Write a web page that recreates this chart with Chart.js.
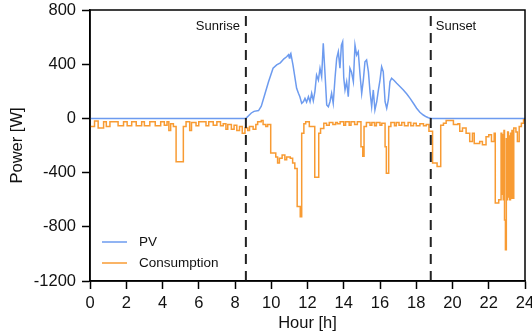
<!DOCTYPE html>
<html>
<head>
<meta charset="utf-8">
<script src="https://cdn.jsdelivr.net/npm/chart.js@4/dist/chart.umd.min.js"></script>
<style>
  body { margin: 0; background: #fff; }
</style>
</head>
<body>
<canvas id="power-chart" width="532" height="336"></canvas>
<script>
// hour ticks and power ticks
const hourTicks = [0, 2, 4, 6, 8, 10, 12, 14, 16, 18, 20, 22, 24];
const powerTicks = [-1200, -800, -400, 0, 400, 800];

// sunrise / sunset markers
const markerHours = [8.6, 18.8];
const markerLabels = ['Sunrise', 'Sunset'];

// PV production
const pvHour = [0, 8.6, 8.75, 8.9, 9.05, 9.3, 9.45, 9.65, 9.85, 10.1, 10.3, 10.5, 10.7, 10.85, 10.95, 11.0, 11.03, 11.08, 11.2, 11.4,
  11.5, 11.58, 11.68, 11.78, 11.86, 11.95, 12.05, 12.14, 12.23, 12.32, 12.41, 12.5, 12.6, 12.69, 12.78, 12.87, 12.97, 13.06, 13.15, 13.24,
  13.33, 13.42, 13.52, 13.61, 13.7, 13.79, 13.87, 13.94, 14.0, 14.07, 14.16, 14.25, 14.34, 14.43, 14.53, 14.62, 14.71, 14.8, 14.9, 14.99,
  15.08, 15.17, 15.26, 15.36, 15.45, 15.54, 15.63, 15.72, 15.82, 15.9, 16.0, 16.09, 16.18, 16.28, 16.37, 16.46, 16.55, 16.64, 16.78, 16.92,
  17.1, 17.29, 17.48, 17.66, 17.85, 18.02, 18.2, 18.39, 18.55, 18.67, 18.85, 24];
const pvPower = [0, 0, 20, 40, 52, 58, 90, 180, 270, 370, 395, 410, 440, 455, 470, 445, 468, 480, 394, 222,
  185, 160, 111, 125, 148, 120, 160, 123, 185, 130, 200, 320, 283, 370, 308, 554, 320, 99, 86, 123,
  185, 111, 300, 443, 492, 370, 541, 566, 300, 210, 271, 160, 370, 340, 271, 541, 468, 492, 320, 185,
  283, 418, 431, 345, 197, 86, 210, 62, 123, 200, 283, 382, 345, 123, 75, 136, 271, 296, 280, 259,
  235, 210, 180, 148, 110, 75, 45, 25, 12, 5, 0, 0];

// household consumption, each value holds until the next hour
const conHour = [0, 0.25, 0.45, 0.75, 0.9, 1.1, 1.55, 1.85, 2.05, 2.3, 2.55, 2.85, 3.0, 3.3, 3.6, 3.9, 4.1, 4.25, 4.35, 4.45,
  4.6, 4.75, 5.15, 5.3, 5.5, 5.6, 5.85, 6.0, 6.4, 6.55, 6.8, 7.0, 7.2, 7.35, 7.5, 7.6, 7.8, 7.95, 8.1, 8.25,
  8.4, 8.55, 8.7, 8.8, 9.0, 9.15, 9.25, 9.45, 9.55, 9.7, 9.8, 9.97, 10.25, 10.35, 10.45, 10.6, 10.75, 10.85, 11.05, 11.18,
  11.3, 11.43, 11.6, 11.68, 11.8, 11.9, 12.1, 12.4, 12.62, 12.72, 12.9, 13.05, 13.2, 13.4, 13.55, 13.65, 13.8, 14.0, 14.1, 14.3,
  14.4, 14.6, 14.75, 14.95, 15.05, 15.12, 15.25, 15.45, 15.55, 15.7, 15.8, 16.0, 16.1, 16.28, 16.35, 16.48, 16.6, 16.8, 16.9, 17.05,
  17.2, 17.35, 17.55, 17.7, 17.85, 18.0, 18.2, 18.4, 18.55, 18.7, 18.9, 19.15, 19.35, 19.5, 19.65, 20.05, 20.3, 20.4, 20.55, 20.75,
  20.95, 21.1, 21.2, 21.5, 21.65, 21.85, 22.0, 22.15, 22.3, 22.36, 22.55, 22.68, 22.72, 22.76, 22.8, 22.84, 22.87, 22.92, 22.97, 23.0,
  23.04, 23.08, 23.12, 23.16, 23.2, 23.24, 23.28, 23.32, 23.38, 23.5, 23.58, 23.68, 23.8, 23.92, 24];
const conPower = [-60, -20, -70, -25, -60, -25, -55, -25, -55, -25, -55, -25, -55, -25, -55, -25, -50, -25, -90, -40,
  -60, -320, -60, -25, -90, -30, -55, -25, -55, -25, -50, -25, -55, -40, -80, -45, -80, -50, -90, -60,
  -110, -70, -90, -60, -80, -45, -25, -15, -45, -60, -45, -255, -285, -330, -295, -270, -305, -285, -295, -330,
  -370, -650, -725, -110, -40, -25, -60, -435, -110, -75, -35, -50, -30, -45, -30, -40, -25, -50, -25, -50,
  -25, -45, -25, -210, -280, -60, -30, -50, -30, -55, -30, -50, -35, -210, -405, -60, -30, -55, -30, -50,
  -30, -55, -30, -55, -35, -55, -40, -55, -45, -95, -330, -355, -50, -35, -15, -45, -40, -95, -70, -110,
  -170, -110, -185, -170, -195, -135, -120, -170, -110, -625, -600, -110, -560, -120, -600, -90, -750, -970, -150, -600,
  -100, -580, -130, -600, -110, -590, -90, -590, -70, -100, -170, -60, -35, -10, -10];

const blue = '#6d9bef';
const orange = '#f89b33';
const font = 'Liberation Sans, Arial, sans-serif';

const pts = (xs, ys) => xs.map((x, i) => ({ x, y: ys[i] }));

const datasets = [
  { label: 'PV', data: pts(pvHour, pvPower), borderColor: blue, borderWidth: 1.5, pointRadius: 0, tension: 0, order: 2 },
  { label: 'Consumption', data: pts(conHour, conPower), borderColor: orange, borderWidth: 1.5, pointRadius: 0, stepped: true, order: 1 },
  ...markerHours.map((h, i) => ({
    label: markerLabels[i], marker: true,
    data: [{ x: h, y: powerTicks[0] }, { x: h, y: powerTicks[powerTicks.length - 1] }],
    borderColor: '#222', borderWidth: 2, borderDash: [10, 7], pointRadius: 0, order: 0
  }))
];

// frame, marker captions and the in-plot legend
const decor = {
  id: 'decor',
  afterDraw(chart) {
    const { ctx, chartArea: a, scales: { x } } = chart;
    ctx.save();
    ctx.strokeStyle = '#000';
    ctx.lineWidth = 1.5;
    ctx.strokeRect(a.left, a.top, a.right - a.left, a.bottom - a.top);

    ctx.fillStyle = '#111';
    ctx.font = `13px ${font}`;
    ctx.textBaseline = 'middle';
    markerHours.forEach((h, i) => {
      const px = x.getPixelForValue(h);
      ctx.textAlign = i === 0 ? 'right' : 'left';
      ctx.fillText(markerLabels[i], i === 0 ? px - 6 : px + 5, a.top + 16);
    });

    ctx.font = `13.5px ${font}`;
    ctx.textAlign = 'left';
    chart.data.datasets.filter(d => !d.marker).forEach((d, i) => {
      const y = a.bottom - 39 + i * 21;
      ctx.strokeStyle = d.borderColor;
      ctx.lineWidth = 1.5;
      ctx.beginPath();
      ctx.moveTo(a.left + 12, y);
      ctx.lineTo(a.left + 37, y);
      ctx.stroke();
      ctx.fillStyle = '#111';
      ctx.fillText(d.label, a.left + 49, y);
    });
    ctx.restore();
  }
};

const axisGrid = { drawOnChartArea: false, drawTicks: true, tickLength: 8, tickColor: '#000', tickWidth: 1.5 };
const axisBorder = { color: '#000', width: 1.5 };

new Chart(document.getElementById('power-chart'), {
  type: 'line',
  data: { datasets },
  options: {
    responsive: false,
    animation: false,
    layout: { padding: { top: 10, right: 7, left: 0, bottom: 0 } },
    plugins: { legend: { display: false }, tooltip: { enabled: false } },
    scales: {
      x: {
        type: 'linear', min: 0, max: 24,
        afterBuildTicks: s => { s.ticks = hourTicks.map(value => ({ value })); },
        afterFit: s => { s.height = 55; s.paddingLeft = 0; s.paddingRight = 0; },
        ticks: { color: '#111', font: { family: font, size: 16.5 }, padding: 5, maxRotation: 0, callback: v => String(v) },
        grid: axisGrid, border: axisBorder,
        title: { display: true, text: 'Hour [h]', color: '#111', font: { family: font, size: 16.5 }, padding: { top: 0, bottom: 3 } }
      },
      y: {
        min: -1200, max: 800,
        afterBuildTicks: s => { s.ticks = powerTicks.map(value => ({ value })); },
        afterFit: s => { s.width = 90; s.paddingTop = 0; s.paddingBottom = 0; },
        ticks: { color: '#111', font: { family: font, size: 16.5 }, padding: 6, callback: v => String(v) },
        grid: axisGrid, border: axisBorder,
        title: { display: true, text: 'Power [W]', color: '#111', font: { family: font, size: 16.5 }, padding: { top: 8, bottom: 0 } }
      }
    }
  },
  plugins: [decor]
});
</script>
</body>
</html>
